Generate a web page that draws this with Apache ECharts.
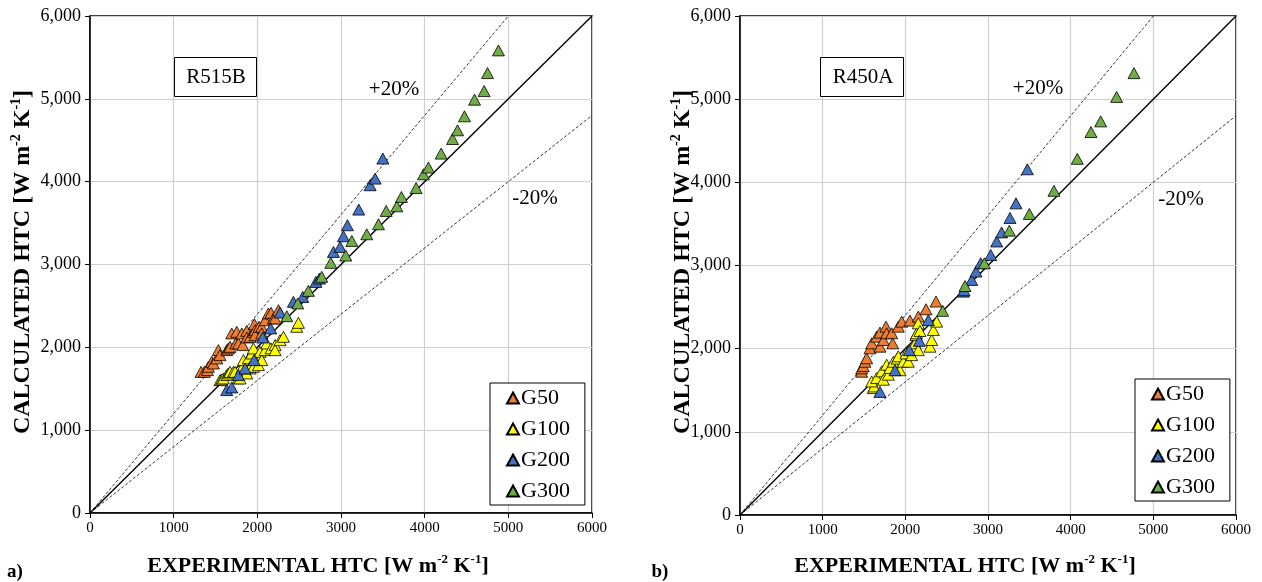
<!DOCTYPE html>
<html>
<head>
<meta charset="utf-8">
<script src="https://cdn.jsdelivr.net/npm/echarts@6/dist/echarts.min.js"></script>
<style>
  html, body { margin: 0; padding: 0; background: #fff; }
  #chart { width: 1262px; height: 582px; }
</style>
</head>
<body>
<div id="chart"></div>
<script>
// groups shown in legend
const groups = ['G50', 'G100', 'G200', 'G300']
const groupColors = ['#ED7D31', '#FFFF00', '#4472C4', '#70AD47']

// a) R515B  [experimental, calculated]
const r515bG50 = [[1327,1704],[1367,1704],[1403,1725],[1415,1765],[1455,1825],[1475,1805],[1515,1866],[1534,1966],[1554,1906],[1634,1966],[1654,1987],[1674,2006],[1694,2168],[1742,2047],[1754,2187],[1774,2047],[1814,2168],[1826,2027],[1874,2199],[1874,2119],[1913,2127],[1953,2187],[1965,2280],[1973,2207],[1973,2147],[2021,2248],[2053,2248],[2053,2168],[2093,2328],[2132,2409],[2164,2416],[2192,2349],[2212,2349],[2252,2449]]
const r515bG100 = [[1554,1604],[1574,1612],[1594,1625],[1634,1665],[1654,1685],[1674,1704],[1714,1704],[1734,1704],[1774,1625],[1794,1625],[1814,1745],[1833,1846],[1874,1685],[1893,1866],[1913,1745],[1913,1765],[1933,1926],[1953,1765],[1953,1987],[2013,1785],[2033,1946],[2053,1846],[2093,1966],[2112,2047],[2164,1987],[2212,2027],[2212,1966],[2272,2087],[2312,2127],[2471,2248],[2491,2296]]
const r515bG200 = [[1634,1484],[1694,1516],[1774,1665],[1853,1745],[1961,1846],[2064,2119],[2160,2228],[2272,2420],[2431,2549],[2543,2609],[2700,2790],[2742,2830],[2910,3152],[2989,3212],[3029,3341],[3077,3474],[3212,3663],[3348,3957],[3408,4037],[3500,4279]]
const r515bG300 = [[2352,2376],[2483,2530],[2610,2682],[2770,2851],[2878,3020],[3057,3108],[3129,3285],[3308,3365],[3448,3486],[3540,3647],[3667,3703],[3722,3815],[3898,3924],[3986,4089],[4045,4170],[4197,4339],[4333,4515],[4393,4620],[4476,4789],[4596,4990],[4711,5094],[4751,5311],[4882,5585]]

// b) R450A
const r450aG50 = [[1472,1723],[1472,1763],[1492,1790],[1512,1843],[1532,1884],[1573,2004],[1593,2064],[1653,2144],[1693,2193],[1693,2024],[1734,2104],[1766,2265],[1774,2185],[1835,2185],[1847,2064],[1915,2265],[1956,2325],[2056,2338],[2157,2386],[2250,2474],[2371,2567]]
const r450aG100 = [[1613,1526],[1621,1546],[1593,1606],[1653,1647],[1714,1727],[1734,1627],[1774,1807],[1794,1687],[1814,1767],[1855,1843],[1900,1880],[1915,1908],[1935,1741],[1976,1843],[2008,1943],[2036,1843],[2077,1922],[2117,2064],[2129,2165],[2137,2185],[2157,1982],[2157,2305],[2177,2213],[2298,2024],[2319,2104],[2339,2225],[2379,2325]]
const r450aG200 = [[1693,1480],[1875,1741],[2048,1982],[2169,2094],[2278,2343],[2702,2686],[2710,2702],[2803,2827],[2855,2928],[2912,3027],[3033,3127],[3105,3289],[3165,3398],[3266,3572],[3339,3747],[3476,4157]]
const r450aG300 = [[2452,2455],[2722,2753],[2956,3027],[3258,3419],[3500,3620],[3798,3898],[4080,4283],[4246,4605],[4363,4733],[4556,5027],[4766,5313]]

// reference lines: perfect agreement and +/-20% band
const lineExact = [[0,0],[6000,6000]]
const linePlus20 = [[0,0],[5000,6000]]
const lineMinus20 = [[0,0],[6000,4800]]

const FONT = 'Liberation Serif'
const chart = echarts.init(document.getElementById('chart'))

function makeAxes(idx) {
  const x = {
    type: 'value', gridIndex: idx, min: 0, max: 6000, interval: 1000,
    axisLine: { lineStyle: { color: '#000', width: 1.5 } },
    axisTick: { show: true, length: 5, lineStyle: { color: '#000' } },
    axisLabel: { margin: 8, color: '#000', fontFamily: FONT, fontSize: 15, formatter: v => String(v) },
    splitLine: { lineStyle: { color: '#cfcfcf', width: 1.2 } },
  }
  const y = {
    type: 'value', gridIndex: idx, min: 0, max: 6000, interval: 1000,
    axisLine: { show: true, lineStyle: { color: '#000', width: 1.5 } },
    axisTick: { show: true, length: 5, lineStyle: { color: '#000' } },
    axisLabel: {
      margin: 9, color: '#000', fontFamily: FONT, fontSize: 18,
      formatter: v => v.toLocaleString('en-US'),
    },
    splitLine: { lineStyle: { color: '#cfcfcf', width: 1.2 } },
  }
  return [x, y]
}

function makeSeries(idx, sets) {
  const out = []
  const refs = [
    { d: lineExact, w: 1.4, t: 'solid' },
    { d: linePlus20, w: 0.8, t: [3, 2] },
    { d: lineMinus20, w: 0.8, t: [3, 2] },
  ]
  refs.forEach(r => {
    out.push({
      type: 'line', xAxisIndex: idx, yAxisIndex: idx, data: r.d,
      showSymbol: false, silent: true, z: 1,
      lineStyle: { color: '#000', width: r.w, type: r.t },
    })
  })
  sets.forEach((d, i) => {
    out.push({
      name: groups[i], type: 'scatter', xAxisIndex: idx, yAxisIndex: idx, data: d,
      symbol: 'triangle', symbolSize: [12, 11], z: 3 + i,
      itemStyle: { color: groupColors[i], borderColor: '#000', borderWidth: 0.8, opacity: 1 },
    })
  })
  return out
}

function makeLegend(left, top) {
  return {
    data: groups, orient: 'vertical', left: left, top: top,
    icon: 'triangle', itemWidth: 12, itemHeight: 11, itemGap: 9,
    padding: [4, 15, 3, 16], borderColor: '#000', borderWidth: 1,
    backgroundColor: '#fff', selectedMode: false,
    textStyle: { fontFamily: FONT, fontSize: 22, color: '#000', lineHeight: 18, padding: [0, 0, 0, -3] },
  }
}

// axis title with superscripts
const titleRich = {
  b: { fontFamily: FONT, fontWeight: 'bold', fontSize: 22, lineHeight: 26, color: '#000' },
  s: { fontFamily: FONT, fontWeight: 'bold', fontSize: 13, verticalAlign: 'top', color: '#000' },
}
const titleRichY = {
  b: { fontFamily: FONT, fontWeight: 'bold', fontSize: 24, lineHeight: 28, color: '#000' },
  s: { fontFamily: FONT, fontWeight: 'bold', fontSize: 14, verticalAlign: 'top', color: '#000' },
}
const xTitle = '{b|EXPERIMENTAL HTC [W m}{s|-2}{b| K}{s|-1}{b|]}'
const yTitle = '{b|CALCULATED HTC [W m}{s|-2}{b| K}{s|-1}{b|]}'

function textEl(x, y, txt, opts) {
  return {
    type: 'text', x: x, y: y, z: 100,
    style: Object.assign({
      text: txt, fontFamily: FONT, fontSize: 21, fill: '#000',
      align: 'center', verticalAlign: 'middle',
    }, opts || {}),
  }
}

const [xa0, ya0] = makeAxes(0)
const [xa1, ya1] = makeAxes(1)

chart.setOption({
  animation: false,
  grid: [
    { left: 90, top: 16, width: 502, height: 497, show: true, borderColor: '#000', borderWidth: 1.5 },
    { left: 740, top: 16, width: 496, height: 499, show: true, borderColor: '#000', borderWidth: 1.5 },
  ],
  xAxis: [xa0, xa1],
  yAxis: [ya0, ya1],
  legend: [makeLegend(490, 383), makeLegend(1135, 379)],
  series: [
    ...makeSeries(0, [r515bG50, r515bG100, r515bG200, r515bG300]),
    ...makeSeries(1, [r450aG50, r450aG100, r450aG200, r450aG300]),
  ],
  graphic: [
    // sample name boxes
    { type: 'rect', shape: { x: 174.5, y: 57.5, width: 82, height: 39 }, style: { fill: '#fff', stroke: '#000', lineWidth: 1 }, z: 99 },
    textEl(216, 77, 'R515B'),
    { type: 'rect', shape: { x: 820.5, y: 57.5, width: 83, height: 39 }, style: { fill: '#fff', stroke: '#000', lineWidth: 1 }, z: 99 },
    textEl(863, 77, 'R450A'),
    // band labels
    textEl(394, 89, '+20%'),
    textEl(535, 198, '-20%'),
    textEl(1038, 88, '+20%'),
    textEl(1181, 199, '-20%'),
    // axis titles
    textEl(318, 566, xTitle, { rich: titleRich }),
    textEl(965, 566, xTitle, { rich: titleRich }),
    { type: 'text', x: 23, y: 262, rotation: Math.PI / 2, z: 100,
      style: { text: yTitle, rich: titleRichY, align: 'center', verticalAlign: 'middle' } },
    { type: 'text', x: 683, y: 262, rotation: Math.PI / 2, z: 100,
      style: { text: yTitle, rich: titleRichY, align: 'center', verticalAlign: 'middle' } },
    // panel letters
    textEl(15, 572, 'a)', { fontWeight: 'bold', fontSize: 19 }),
    textEl(660, 572, 'b)', { fontWeight: 'bold', fontSize: 19 }),
  ],
})
</script>
</body>
</html>
